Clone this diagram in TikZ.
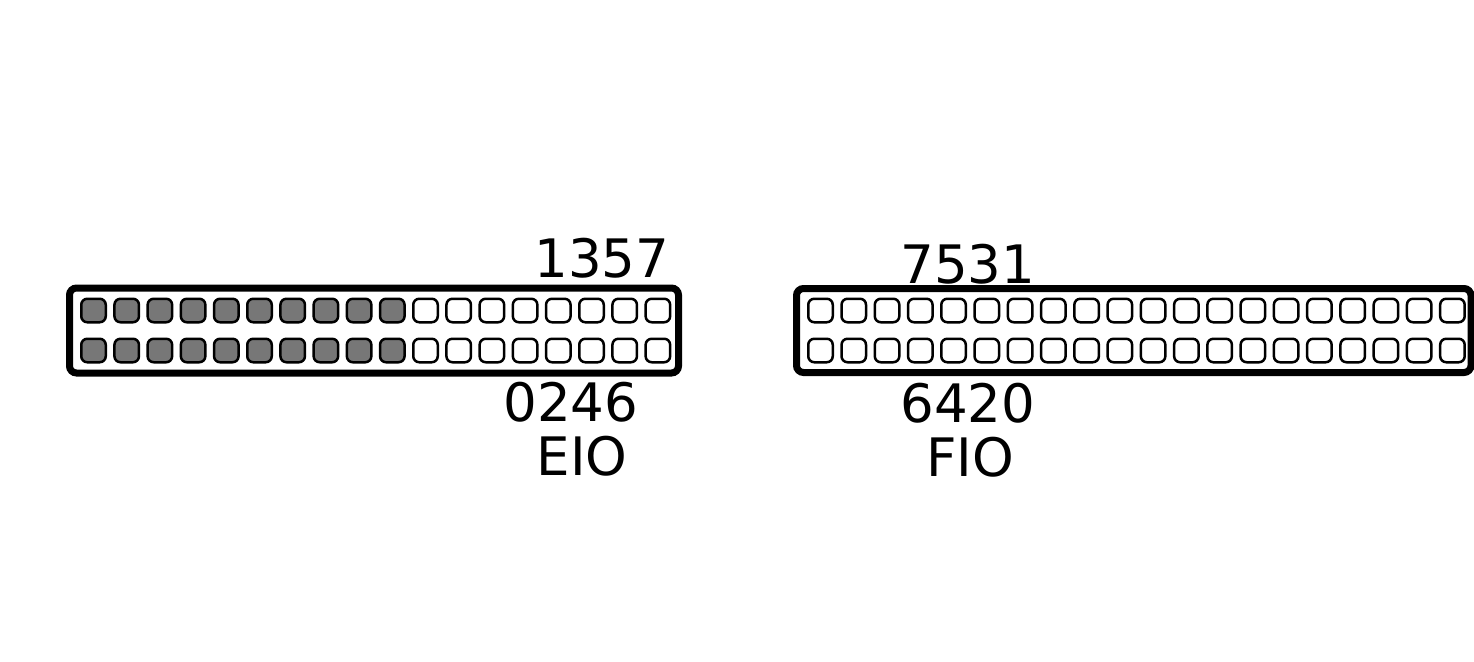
\documentclass[tikz,border=0pt]{standalone}
\usepackage{fontspec}
\setmainfont{DejaVu Sans}
\definecolor{pingray}{HTML}{777777}
\begin{document}
\begin{tikzpicture}[x=1pt,y=-1pt,
  pinbox/.style={draw, line width=2.5pt, rounded corners=6pt, minimum width=24.5pt, minimum height=23.5pt, inner sep=0pt, fill=white},
  gpin/.style={pinbox, fill=pingray},
  shell/.style={draw, line width=7pt, rounded corners=7pt, fill=white, inner sep=0pt},
  lbl/.style={font=\fontsize{53}{64}\selectfont, anchor=base, inner sep=0pt}]
\useasboundingbox[fill=white] (0,0) rectangle (1474,661);
% shells
\node[shell, minimum width=609pt, minimum height=85pt] (shellL) at (374,330.5) {};
\node[shell, minimum width=674.5pt, minimum height=84pt] (shellR) at (1133.75,330.5) {};
% left pins
\foreach \i in {0,...,17}{
  \pgfmathsetmacro{\px}{93.5+33.2*\i}
  \ifnum\i<10
    \node[gpin] (L-1-\i) at (\px,310.5) {};
    \node[gpin] (L-2-\i) at (\px,350.5) {};
  \else
    \node[pinbox] (L-1-\i) at (\px,310.5) {};
    \node[pinbox] (L-2-\i) at (\px,350.5) {};
  \fi
}
% right pins
\foreach \i in {0,...,19}{
  \pgfmathsetmacro{\px}{820.5+33.26*\i}
  \node[pinbox] (R-1-\i) at (\px,310.5) {};
  \node[pinbox] (R-2-\i) at (\px,350.5) {};
}
% labels
\node[lbl] (t1357) at (602,277) {1357};
\node[lbl] (t0246) at (571,421) {0246};
\node[lbl] (tEIO) at (582,475) {EIO};
\node[lbl] (t7531) at (968,283) {7531};
\node[lbl] (t6420) at (968,422) {6420};
\node[lbl] (tFIO) at (970,476) {FIO};
\end{tikzpicture}
\end{document}
